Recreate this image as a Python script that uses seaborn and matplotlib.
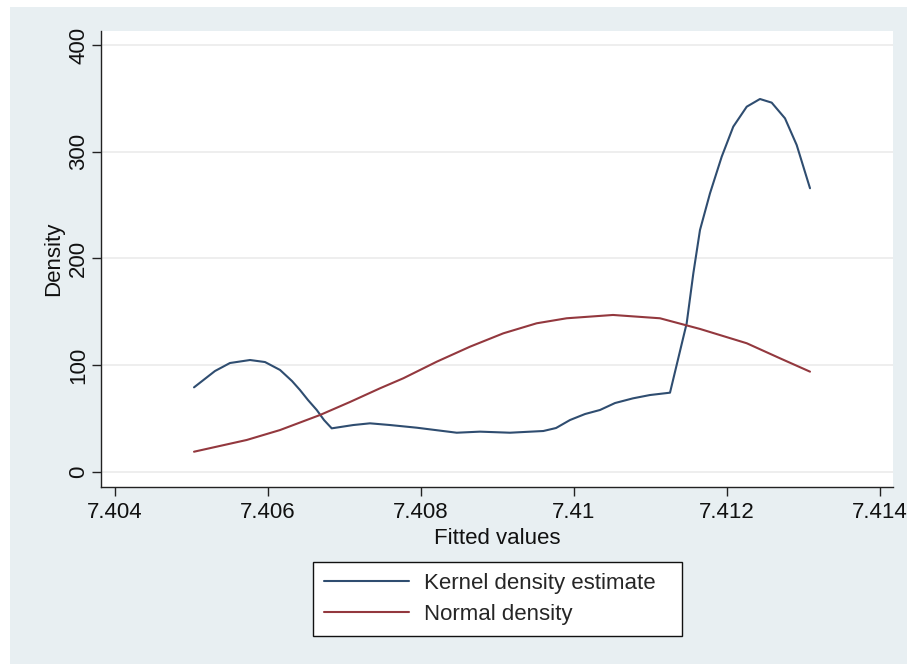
import numpy as np
import pandas as pd
import seaborn as sns
import matplotlib.pyplot as plt
from matplotlib.patches import Rectangle
from matplotlib.lines import Line2D

# Kernel density estimate of the fitted values
kde_x = [7.405033, 7.405307, 7.405503, 7.405765, 7.405961, 7.406157, 7.406314,
         7.406418, 7.406523, 7.406637, 7.406732, 7.406833, 7.407115, 7.407333,
         7.407595, 7.407944, 7.408467, 7.408771, 7.409163, 7.409599, 7.409765,
         7.409948, 7.410144, 7.410340, 7.410536, 7.410771, 7.410993, 7.411255,
         7.411473, 7.411560, 7.411647, 7.411778, 7.411931, 7.412082, 7.412258,
         7.412431, 7.412584, 7.412758, 7.412911, 7.413085]
kde_y = [79.3, 94.6, 102.1, 104.9, 103.0, 95.6, 85.2,
         76.8, 67.4, 58.1, 48.7, 40.9, 44.0, 45.6,
         44.0, 41.5, 36.8, 37.8, 36.8, 38.4, 41.2,
         48.7, 54.3, 58.1, 64.6, 69.0, 72.1, 74.3,
         139.3, 186.1, 226.7, 261.1, 295.4, 323.5, 342.2,
         349.4, 346.0, 331.3, 306.3, 265.8]

# Normal density with the same mean and standard deviation
norm_x = [7.405033, 7.405722, 7.406157, 7.406680, 7.407072, 7.407464, 7.407769,
          7.408205, 7.408641, 7.409076, 7.409512, 7.409904, 7.410510, 7.411124,
          7.411647, 7.412258, 7.412693, 7.413085]
norm_y = [19.0, 30.0, 39.3, 53.4, 65.6, 78.4, 87.8,
          103.3, 117.4, 129.9, 139.3, 144.0, 147.1, 144.0,
          134.0, 120.6, 106.5, 94.0]

series_names = ["Kernel density estimate", "Normal density"]
x_ticks = [7.404, 7.406, 7.408, 7.41, 7.412, 7.414]
x_tick_labels = ["7.404", "7.406", "7.408", "7.41", "7.412", "7.414"]
y_ticks = [0, 100, 200, 300, 400]

df = pd.concat([
    pd.DataFrame({"x": kde_x, "y": kde_y, "series": series_names[0]}),
    pd.DataFrame({"x": norm_x, "y": norm_y, "series": series_names[1]}),
], ignore_index=True)

sns.set_style("white")
plt.rcParams["font.family"] = ["Liberation Sans", "DejaVu Sans"]

W, H = 907, 664
fig = plt.figure(figsize=(W / 100, H / 100), dpi=100, facecolor="white")
bg = "#e8eff2"
fig.patches.append(Rectangle((10 / W, 0), 1 - 10 / W, 1 - 7 / H,
                             transform=fig.transFigure, facecolor=bg,
                             edgecolor="none", zorder=-10))

ax = fig.add_axes([101 / W, 1 - 487 / H, (893 - 101) / W, (487 - 31) / H])
ax.set_facecolor("white")

palette = {series_names[0]: "#2f4d70", series_names[1]: "#93383e"}
sns.lineplot(data=df, x="x", y="y", hue="series", palette=palette,
             sort=False, estimator=None, linewidth=1.5, ax=ax, legend=False)

ax.set_xlim(7.403817, 7.414170)
ax.set_ylim(-14.05, 413.1)
ax.set_xticks(x_ticks)
ax.set_xticklabels(x_tick_labels)
ax.set_yticks(y_ticks)
ax.set_yticklabels([str(v) for v in y_ticks], rotation=90, va="center")

ax.grid(axis="y", color="#ebebeb", linewidth=1.2)
ax.grid(axis="x", visible=False)
ax.set_axisbelow(True)

for side in ("top", "right"):
    ax.spines[side].set_visible(False)
for side in ("left", "bottom"):
    ax.spines[side].set_color("#222222")
    ax.spines[side].set_linewidth(1.0)

ax.tick_params(axis="both", direction="out", length=6.5, width=1.0,
               color="#222222", labelsize=16, labelcolor="#111111", pad=4,
               left=True, bottom=True)
ax.tick_params(axis="y", pad=2)

ax.set_xlabel("Fitted values", fontsize=16, color="#111111", labelpad=4)
ax.set_ylabel("Density", fontsize=16, color="#111111", labelpad=3)

handles = [Line2D([], [], color=palette[n], linewidth=1.5) for n in series_names]
leg = fig.legend(handles, series_names, loc="center", mode="expand",
                 bbox_to_anchor=(313 / W, 1 - 635 / H, 369 / W, 72 / H),
                 fontsize=16, frameon=True, fancybox=False,
                 edgecolor="#111111", facecolor="white", framealpha=1,
                 handlelength=3.8, handletextpad=0.7, borderpad=0.5,
                 labelspacing=0.45, borderaxespad=0)
leg.get_frame().set_linewidth(1.0)

fig.savefig("out.png", dpi=100, facecolor=fig.get_facecolor())
